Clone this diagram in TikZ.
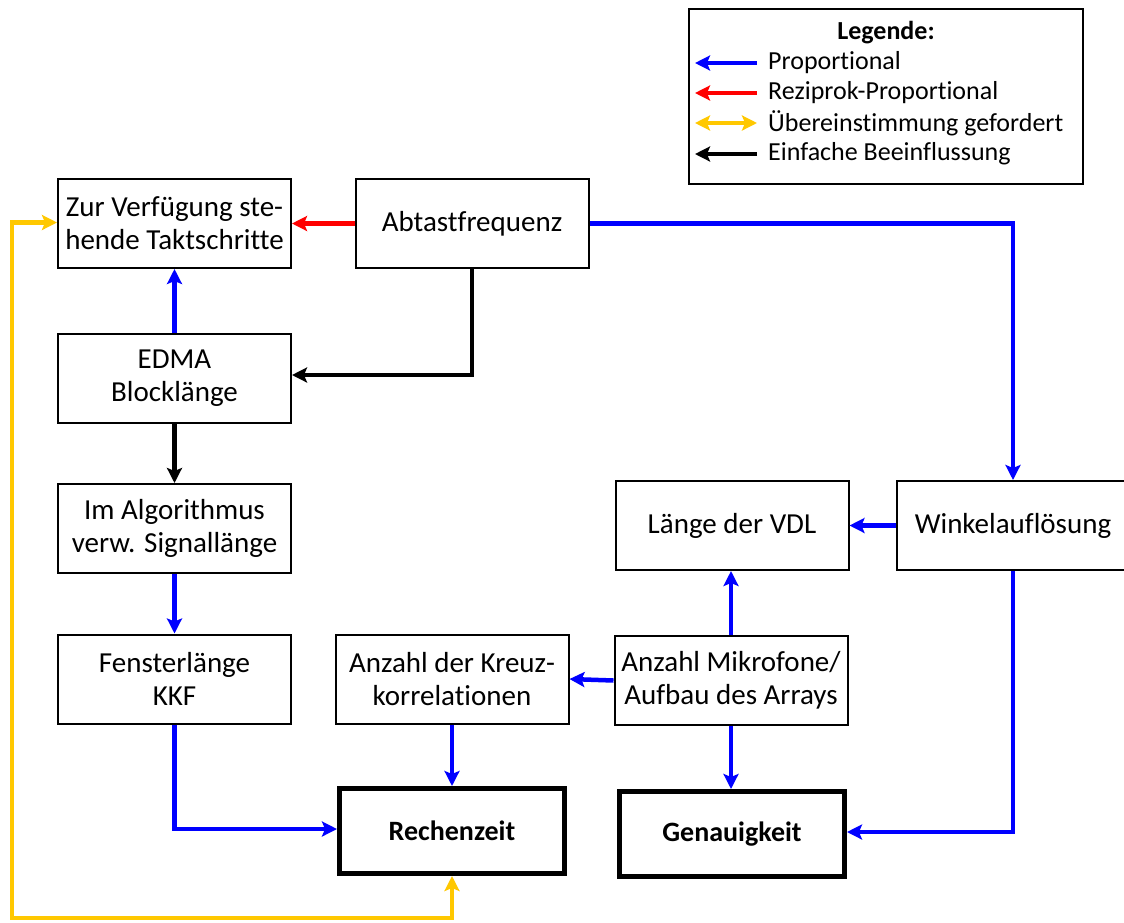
\documentclass[tikz,border=0pt]{standalone}
\usepackage{fontspec}
\setmainfont{Carlito}[Ligatures=NoCommon]
\usetikzlibrary{arrows.meta}
\tikzset{
  box/.style={draw, line width=2pt, minimum width=233pt, minimum height=89pt,
    align=center, inner sep=0pt, font=\fontsize{29}{33}\selectfont},
  goal/.style={draw, line width=5pt, minimum width=225pt, minimum height=85pt,
    align=center, inner sep=0pt, font=\fontsize{28}{33}\selectfont\bfseries},
  tip/.style={-{Stealth[length=15pt,width=15pt,inset=3pt]}},
  prop/.style={tip, line width=4.5pt, draw={rgb,255:red,0;green,0;blue,255}},
  recip/.style={tip, line width=4.5pt, draw={rgb,255:red,255;green,0;blue,0}},
  match/.style={{Stealth[length=15pt,width=15pt,inset=3pt]}-{Stealth[length=15pt,width=15pt,inset=3pt]},
    line width=4.5pt, draw={rgb,255:red,255;green,200;blue,0}},
  plain/.style={tip, line width=4.5pt, draw=black},
  legtext/.style={anchor=west, inner sep=0pt, font=\fontsize{26}{28}\selectfont}
}
\begin{document}
\begin{tikzpicture}[x=1pt,y=-1pt]
\useasboundingbox (0,0) rectangle (1124,922);

% legend
\node[draw, line width=2pt, minimum width=394pt, minimum height=175pt, inner sep=0pt]
  (legend) at (886,96.5) {};
\node[inner sep=0pt, font=\fontsize{26}{28}\selectfont\bfseries] (legtitle) at (886,33) {Legende:};
\foreach \nm/\yy/\txt in {lp/63/Proportional, lr/93/Reziprok-Proportional,
    lm/123/Übereinstimmung gefordert, lb/154/Einfache Beeinflussung}{
  \node[legtext] (\nm) at (768,\yy) {\txt};
  \coordinate (\nm a) at (757,\yy);
  \coordinate (\nm b) at (695,\yy);
}
\draw[prop] (lpa) -- (lpb);
\draw[recip] (lra) -- (lrb);
\draw[match] (lma) -- (lmb);
\draw[plain] (lba) -- (lbb);

% boxes
\node[box] (zur)   at (174.5,223.5) {Zur Verfügung ste-\\hende Taktschritte};
\node[box] (abt)   at (472,223.5)   {Abtastfrequenz};
\node[box] (edma)  at (174.5,378)   {EDMA\\Blocklänge};
\node[box] (algo)  at (174.5,528.5) {Im Algorithmus\\verw. Signallänge};
\node[box] (fen)   at (174.5,679)   {Fensterlänge\\KKF};
\node[box] (kreuz) at (452,679)     {Anzahl der Kreuz-\\korrelationen};
\node[box] (mik)   at (731,680.5)   {Anzahl Mikrofone/\\Aufbau des Arrays};
\node[box] (vdl)   at (732,525.5)   {Länge der VDL};
\node[box] (wink)  at (1013,525.5)  {Winkelauflösung};
\node[goal] (rech) at (452,831)     {Rechenzeit};
\node[goal] (gen)  at (732,834)     {Genauigkeit};

\coordinate (ycorner) at (12,918);

% connectors
\draw[recip] (abt.west) -- (zur.east);
\draw[prop] (abt.east) -| (wink.north);
\draw[plain] (abt.south) |- ([yshift=3pt]edma.east);
\draw[prop] (edma.north) -- (zur.south);
\draw[plain] (edma.south) -- (algo.north);
\draw[prop] (algo.south) -- (fen.north);
\draw[prop] (fen.south) |- ([yshift=2pt]rech.west);
\draw[prop] (kreuz.south) -- (rech.north);
\draw[prop] (mik.west) -- (kreuz.east);
\draw[prop] (mik.north) -- (mik.north |- vdl.south);
\draw[prop] (mik.south) -- (mik.south |- gen.north);
\draw[prop] (wink.west) -- (vdl.east);
\draw[prop] (wink.south) |- ([yshift=2pt]gen.east);
\draw[match] (rech.south) |- (ycorner) |- ([yshift=1pt]zur.west);
\end{tikzpicture}
\end{document}
